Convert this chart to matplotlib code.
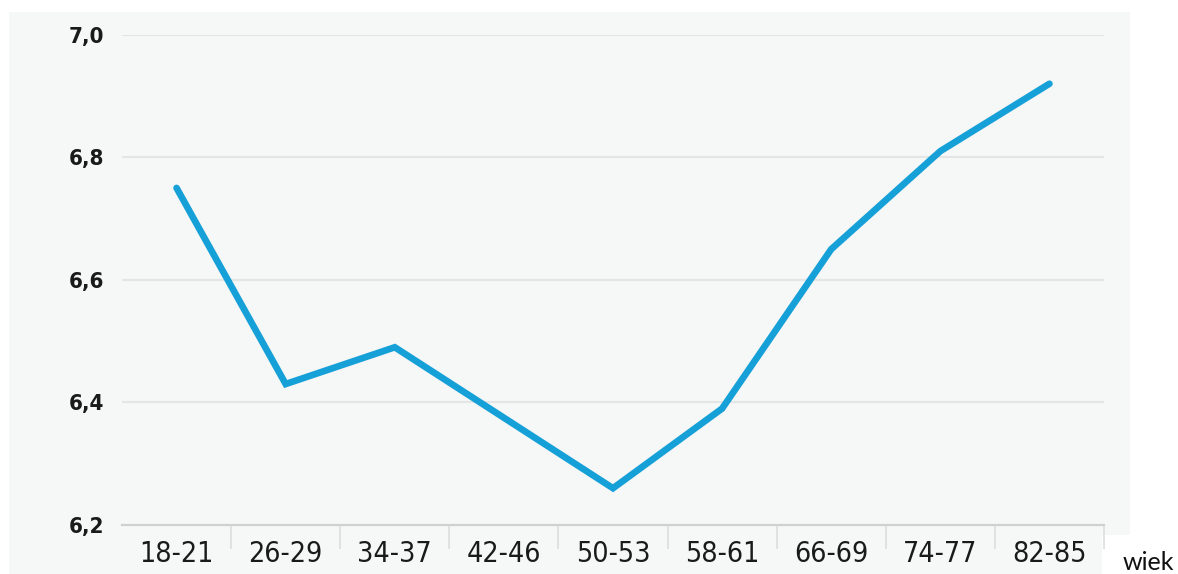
import numpy as np
import matplotlib.pyplot as plt
from matplotlib.patches import Rectangle
from matplotlib import font_manager

# Dane: przedziały wieku i średnia wartość
wiek = ['18-21', '26-29', '34-37', '42-46', '50-53', '58-61', '66-69', '74-77', '82-85']
wartosc = [6.75, 6.43, 6.49, 6.375, 6.26, 6.39, 6.65, 6.81, 6.92]
y_ticks = [6.2, 6.4, 6.6, 6.8, 7.0]
y_labels = ['6,2', '6,4', '6,6', '6,8', '7,0']

# wąska czcionka, jeśli jest
cond = [f for f in font_manager.fontManager.ttflist
        if f.stretch in ('condensed', 'semi-condensed', 'extra-condensed') or 'Narrow' in f.name
        or 'Condensed' in f.name]
narrow = cond[0].name if cond else 'DejaVu Sans'

W, H = 1178, 574
fig = plt.figure(figsize=(W/100, H/100), dpi=100)
fig.patch.set_facecolor('white')

# szare tło wykresu
tlo = '#f6f7f7'
fig.patches.append(Rectangle((9/W, 0), (1102-9)/W, 1-12/H, transform=fig.transFigure,
                             facecolor=tlo, edgecolor='none', zorder=-5))
fig.patches.append(Rectangle((1102/W, 1-535/H), (1130-1102)/W, (535-12)/H,
                             transform=fig.transFigure, facecolor=tlo, edgecolor='none', zorder=-5))

ax = fig.add_axes([122/W, 1-525/H, (1104-122)/W, (525-34.7)/H])
ax.set_zorder(2)
ax.set_facecolor('none')

x = np.arange(len(wiek))
ax.plot(x, wartosc, color='#16a0d8', lw=4.8, solid_capstyle='round', solid_joinstyle='miter',
        zorder=3, clip_on=False)

ax.set_xlim(-0.5, len(wiek)-0.5)
ax.set_ylim(6.2, 7.0)

for v in y_ticks[1:]:
    ax.axhline(v, color='#e4e5e5', lw=1.6, zorder=1)

for s in ['top', 'right', 'left']:
    ax.spines[s].set_visible(False)
ax.spines['bottom'].set_color('#cfd0d0')
ax.spines['bottom'].set_linewidth(1.6)

ax.set_yticks(y_ticks)
ax.set_yticklabels(y_labels, fontsize=16, fontweight='bold', family=[narrow, 'DejaVu Sans'],
                   fontstretch='condensed', color='#1a1a1a')
ax.tick_params(axis='y', length=0, pad=13)

ax.set_xticks(x)
ax.set_xticklabels(wiek, fontsize=20.5, family=[narrow, 'DejaVu Sans'], fontstretch='condensed',
                   color='#1a1a1a')
ax.tick_params(axis='x', which='major', length=0, pad=11)
ax.set_xticks(np.append(x[1:] - 0.5, len(wiek)-0.5), minor=True)
ax.tick_params(axis='x', which='minor', length=17, width=1.2, color='#dcdddd')

fig.text(1148/W, 1-562/H, 'wiek', fontsize=18, family=['Lato', 'DejaVu Sans'],
         ha='center', va='center', color='#111111')

fig.savefig('out.png', dpi=100, facecolor='white')
